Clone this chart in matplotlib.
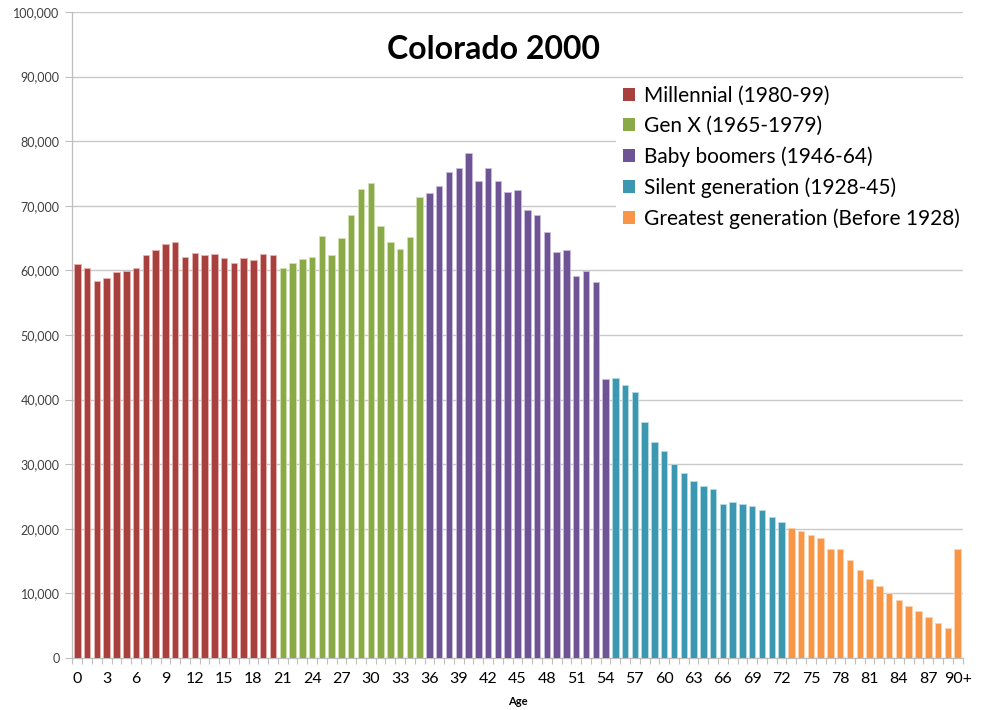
import numpy as np
import matplotlib
matplotlib.use('Agg')
import matplotlib.pyplot as plt

plt.rcParams['font.family'] = ['Lato', 'DejaVu Sans']

# population by single year of age, Colorado 2000
millennial = [61000, 60300, 58400, 58900, 59700, 59950, 60300, 62400, 63200, 64100,
              64400, 62100, 62700, 62400, 62600, 61900, 61100, 61900, 61600, 62600, 62400]
gen_x = [60400, 61200, 61700, 62000, 65300, 62400, 65000, 68600, 72600, 73600,
         66900, 64400, 63300, 65100, 71400]
boomers = [72000, 73100, 75200, 75800, 78100, 73900, 75800, 73800, 72200, 72500,
           69300, 68600, 65900, 62900, 63100, 59100, 59900, 58200, 43200]
silent = [43300, 42300, 41100, 36500, 33400, 32100, 30100, 28700, 27400, 26700,
          26200, 23900, 24200, 23900, 23600, 22900, 21800, 21000]
greatest = [20200, 19600, 19000, 18500, 16800, 16800, 15200, 13600, 12300, 11100,
            10000, 9000, 8100, 7300, 6300, 5400, 4700, 16900]

groups = ['Millennial (1980-99)', 'Gen X (1965-1979)', 'Baby boomers (1946-64)',
          'Silent generation (1928-45)', 'Greatest generation (Before 1928)']
colors = ['#A8403D', '#8AAA48', '#6E5494', '#3C98B0', '#F79646']
edges = ['#E8B4B2', '#D0E0B0', '#C9BCDC', '#B4DCE6', '#FCD4B0']
series = [millennial, gen_x, boomers, silent, greatest]

ages = [str(a) for a in range(90)] + ['90+']

fig = plt.figure(figsize=(9.82, 7.10), dpi=100)
ax = fig.add_axes([72/982, 1-658/710, (963-72)/982, (658-12)/710])

start = 0
for name, vals, c, ec in zip(groups, series, colors, edges):
    x = np.arange(start, start + len(vals))
    ax.bar(x, vals, width=0.66, color=c, edgecolor=ec, linewidth=0.6, label=name, zorder=3)
    start += len(vals)

ax.set_xlim(-0.55, len(ages) - 0.45)
ax.set_ylim(0, 100000)
ax.set_yticks(np.arange(0, 100001, 10000))
ax.set_yticklabels(['{:,}'.format(v) for v in range(0, 100001, 10000)], fontsize=9, color='#404040')
ax.set_xticks(np.arange(0, len(ages), 3))
ax.set_xticklabels(ages[::3], fontsize=11.5, color='black')
ax.set_xticks(np.arange(-0.5, len(ages), 1), minor=True)
ax.tick_params(axis='x', which='major', length=0, pad=10)
ax.tick_params(axis='x', which='minor', length=4, color='#BFBFBF', width=0.8)
ax.tick_params(axis='y', length=5, color='#BFBFBF', width=0.8, pad=4)

ax.grid(axis='y', color='#C8C8C8', linewidth=1.0, zorder=0)
ax.set_axisbelow(True)
for s in ['top', 'right']:
    ax.spines[s].set_visible(False)
for s in ['left', 'bottom']:
    ax.spines[s].set_color('#BFBFBF')
    ax.spines[s].set_linewidth(0.9)

ax.set_xlabel('Age', fontsize=8, fontweight='bold', labelpad=7)
ax.text(0.473, 0.942, 'Colorado 2000', transform=ax.transAxes, ha='center', va='center',
        fontsize=23, fontweight='bold')

leg = ax.legend(loc='upper left', bbox_to_anchor=(606/982, 1-69/710), bbox_transform=fig.transFigure,
                fontsize=15, frameon=True, facecolor='white', edgecolor='none', framealpha=1,
                handlelength=0.6, handleheight=0.6, handletextpad=0.4, labelspacing=0.5,
                borderpad=0.3, fancybox=False)
for h in leg.legend_handles:
    h.set_edgecolor('none')
leg.set_zorder(5)

fig.savefig('out.png', dpi=100, facecolor='white')
